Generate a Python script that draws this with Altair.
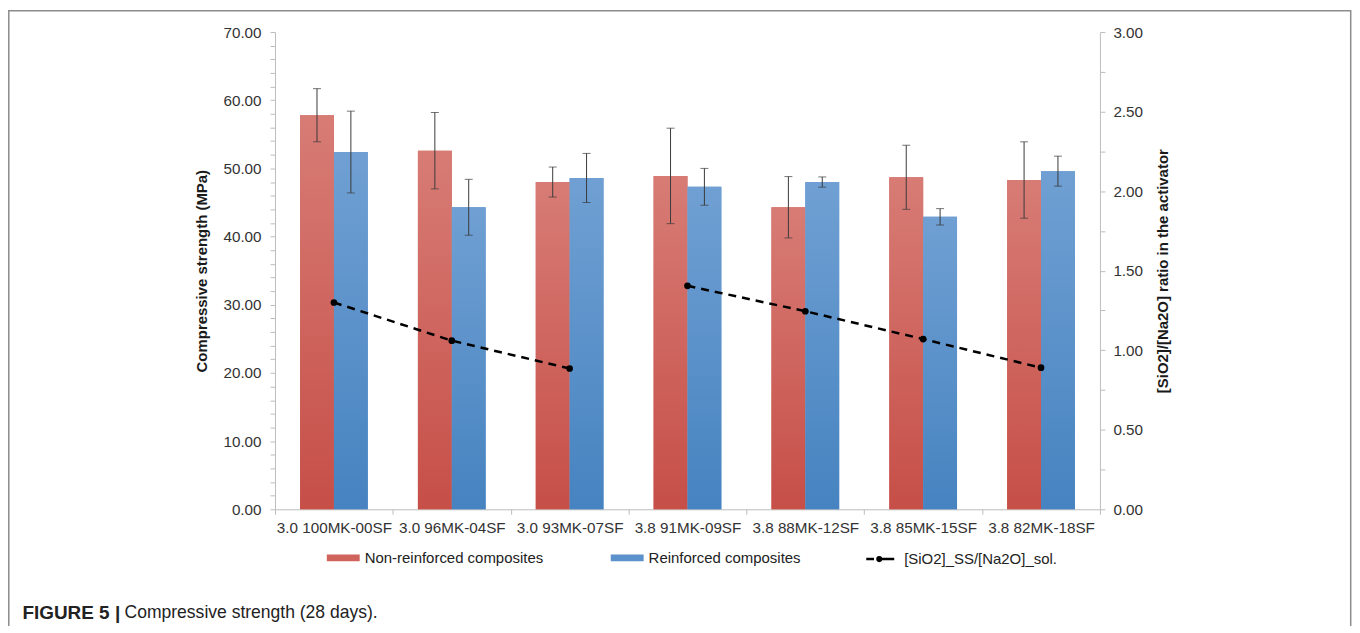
import altair as alt
import pandas as pd

# ---------------- data ----------------
categories = [
    "3.0 100MK-00SF", "3.0 96MK-04SF", "3.0 93MK-07SF", "3.8 91MK-09SF",
    "3.8 88MK-12SF", "3.8 85MK-15SF", "3.8 82MK-18SF",
]
non_reinforced = [57.8, 52.6, 48.0, 48.9, 44.3, 48.7, 48.3]
non_reinforced_err = [3.9, 5.6, 2.2, 7.0, 4.5, 4.7, 5.6]
reinforced = [52.4, 44.3, 48.6, 47.3, 48.0, 42.9, 49.6]
reinforced_err = [6.0, 4.1, 3.6, 2.7, 0.75, 1.2, 2.2]
ratio = [1.30, 1.06, 0.885, 1.405, 1.245, 1.07, 0.89]
ratio_group = ["3.0", "3.0", "3.0", "3.8", "3.8", "3.8", "3.8"]

series_names = ["Non-reinforced composites", "Reinforced composites"]
line_name = "[SiO2]_SS/[Na2O]_sol."
caption_bold = "FIGURE 5 |"
caption_text = "Compressive strength (28 days)."

left_ticks = list(range(0, 71, 2))
right_ticks = [i * 0.25 for i in range(13)]

# ---------------- tables ----------------
rows = []
for s, vals, errs in [(series_names[0], non_reinforced, non_reinforced_err),
                      (series_names[1], reinforced, reinforced_err)]:
    for c, v, e in zip(categories, vals, errs):
        rows.append({"category": c, "series": s, "value": v, "lo": v - e, "hi": v + e})
bars_df = pd.DataFrame(rows)

line_df = pd.DataFrame({
    "category": categories, "ratio": ratio, "group": ratio_group,
    "legend": [line_name] * len(categories),
})
one = pd.DataFrame({"k": [0]})

FONT = "Liberation Sans"
TEXT = "#333333"
AXIS_GRAY = "#bdbdbd"
RED = "#d0645d"
BLUE = "#5b92cc"

red_grad = {"gradient": "linear", "x1": 0, "y1": 0, "x2": 0, "y2": 1,
            "stops": [{"offset": 0, "color": "#d77c75"}, {"offset": 1, "color": "#c64f48"}]}
blue_grad = {"gradient": "linear", "x1": 0, "y1": 0, "x2": 0, "y2": 1,
             "stops": [{"offset": 0, "color": "#70a0d3"}, {"offset": 1, "color": "#4683c0"}]}

x_enc = alt.X(
    "category:N", sort=categories,
    scale=alt.Scale(domain=categories, paddingInner=0, paddingOuter=0),
    axis=alt.Axis(title=None, labelAngle=0, labelFontSize=15.3, labelColor=TEXT,
                  labelPadding=6, labelLimit=0, labelOverlap=False, tickBand="extent",
                  tickSize=5, tickColor=AXIS_GRAY, domainColor=AXIS_GRAY),
)
xoff = alt.XOffset("series:N",
                   scale=alt.Scale(domain=series_names, paddingInner=0, paddingOuter=0.74))

left_scale = alt.Scale(domain=[0, 70], nice=False)
left_axis = alt.Axis(
    orient="left", title="Compressive strength (MPa)", values=left_ticks,
    labelExpr="datum.value % 10 === 0 ? format(datum.value, '.2f') : ''",
    labelFontSize=15.3, labelColor=TEXT, labelPadding=9, tickSize=5,
    tickColor=AXIS_GRAY, domainColor=AXIS_GRAY, grid=False,
    titleFontSize=15, titleFontWeight="bold", titleColor="#1a1a1a", titlePadding=13,
)
right_scale = alt.Scale(domain=[0, 3], nice=False)
right_axis = alt.Axis(
    orient="right", title="[SiO2]/[Na2O] ratio in the activator", values=right_ticks,
    labelExpr="(datum.value * 2) % 1 === 0 ? format(datum.value, '.2f') : ''",
    labelFontSize=15.3, labelColor=TEXT, labelPadding=8, tickSize=5,
    tickColor=AXIS_GRAY, domainColor=AXIS_GRAY, grid=False,
    titleFontSize=15, titleFontWeight="bold", titleColor="#1a1a1a", titlePadding=13,
    titleAngle=270, titleBaseline="top",
)

rect_path = "M-1,-0.21H1V0.21H-1Z"
line_path = ("M-0.85,0H-0.38M-0.05,0H0.85"
             "M-0.17,0A0.11,0.11,0,1,1,0.05,0A0.11,0.11,0,1,1,-0.17,0Z")

bar_legend = alt.Legend(
    title=None, orient="none", legendX=52, legendY=511, direction="horizontal",
    labelFontSize=15, labelColor="#222222", labelFont=FONT, labelLimit=0,
    symbolType=rect_path, symbolSize=1089, symbolStrokeWidth=0, symbolOpacity=1,
    labelOffset=5, columnPadding=67, padding=0,
)
line_legend = alt.Legend(
    title=None, orient="none", legendX=589.5, legendY=511, direction="horizontal",
    labelFontSize=15, labelColor="#222222", labelFont=FONT, labelLimit=0,
    symbolType=line_path, symbolSize=1089, symbolStrokeWidth=2.5, symbolOpacity=1,
    symbolFillColor="#000000", symbolStrokeColor="#000000",
    labelOffset=6, padding=0,
)

# solid bars (give the legend), gradient bars drawn on top
bars_base = alt.Chart(bars_df).mark_bar().encode(
    x=x_enc, xOffset=xoff,
    y=alt.Y("value:Q", scale=left_scale, axis=left_axis),
    fill=alt.Fill("series:N", scale=alt.Scale(domain=series_names, range=[RED, BLUE]),
                  legend=bar_legend),
)
bars = alt.Chart(bars_df).mark_bar().encode(
    x=x_enc, xOffset=xoff,
    y=alt.Y("value:Q", scale=left_scale, axis=left_axis),
    fill=alt.condition(alt.datum.series == series_names[0], alt.value(red_grad), alt.value(blue_grad)),
)
err_rules = alt.Chart(bars_df).mark_rule(color="#3a3a3a", strokeWidth=1).encode(
    x=x_enc, xOffset=xoff,
    y=alt.Y("lo:Q", scale=left_scale, axis=left_axis), y2="hi:Q",
)
cap_lo = alt.Chart(bars_df).mark_tick(color="#3a3a3a", size=8, thickness=1).encode(
    x=x_enc, xOffset=xoff, y=alt.Y("lo:Q", scale=left_scale, axis=left_axis),
)
cap_hi = alt.Chart(bars_df).mark_tick(color="#3a3a3a", size=8, thickness=1).encode(
    x=x_enc, xOffset=xoff, y=alt.Y("hi:Q", scale=left_scale, axis=left_axis),
)

frame = alt.Chart(one).mark_rect(fillOpacity=0, stroke="#8c8c8c", strokeWidth=1.5).encode(
    x=alt.value(-267.2), x2=alt.value(1079.7), y=alt.value(-21.3), y2=alt.value(720),
)
cap1 = alt.Chart(one).mark_text(align="left", baseline="middle", fontSize=19,
                                fontWeight="bold", color="#222222", font=FONT).encode(
    x=alt.value(-253.5), y=alt.value(583), text=alt.value(caption_bold))
cap2 = alt.Chart(one).mark_text(align="left", baseline="middle", fontSize=17.6,
                                color="#222222", font=FONT).encode(
    x=alt.value(-151), y=alt.value(583), text=alt.value(caption_text))

left_group = alt.layer(bars_base, bars, err_rules, cap_lo, cap_hi, frame, cap1, cap2)

line = alt.Chart(line_df).mark_line(strokeDash=[8, 6], strokeWidth=2.5, color="#000000").encode(
    x=x_enc, y=alt.Y("ratio:Q", scale=right_scale, axis=right_axis),
    detail="group:N",
)
points = alt.Chart(line_df).mark_circle(size=45, color="#000000", opacity=1).encode(
    x=x_enc, y=alt.Y("ratio:Q", scale=right_scale, axis=right_axis),
)
# empty layer that only carries the legend entry for the line series
line_key = alt.Chart(line_df).transform_filter("false").mark_line(
    strokeWidth=2.5, color="#000000").encode(
    x=x_enc, y=alt.Y("ratio:Q", scale=right_scale, axis=right_axis),
    opacity=alt.Opacity("legend:N", scale=alt.Scale(domain=[line_name], range=[1]),
                        legend=line_legend),
)
right_group = alt.layer(line, points, line_key)

chart = alt.layer(left_group, right_group).resolve_scale(y="independent").properties(
    width=828, height=479,
    autosize=alt.AutoSizeParams(type="none"),
    padding={"left": 268, "top": 23, "right": 253, "bottom": 116},
).configure(font=FONT).configure_view(strokeWidth=0)

chart.save("out.html", embed_options={"renderer": "svg", "actions": False})
